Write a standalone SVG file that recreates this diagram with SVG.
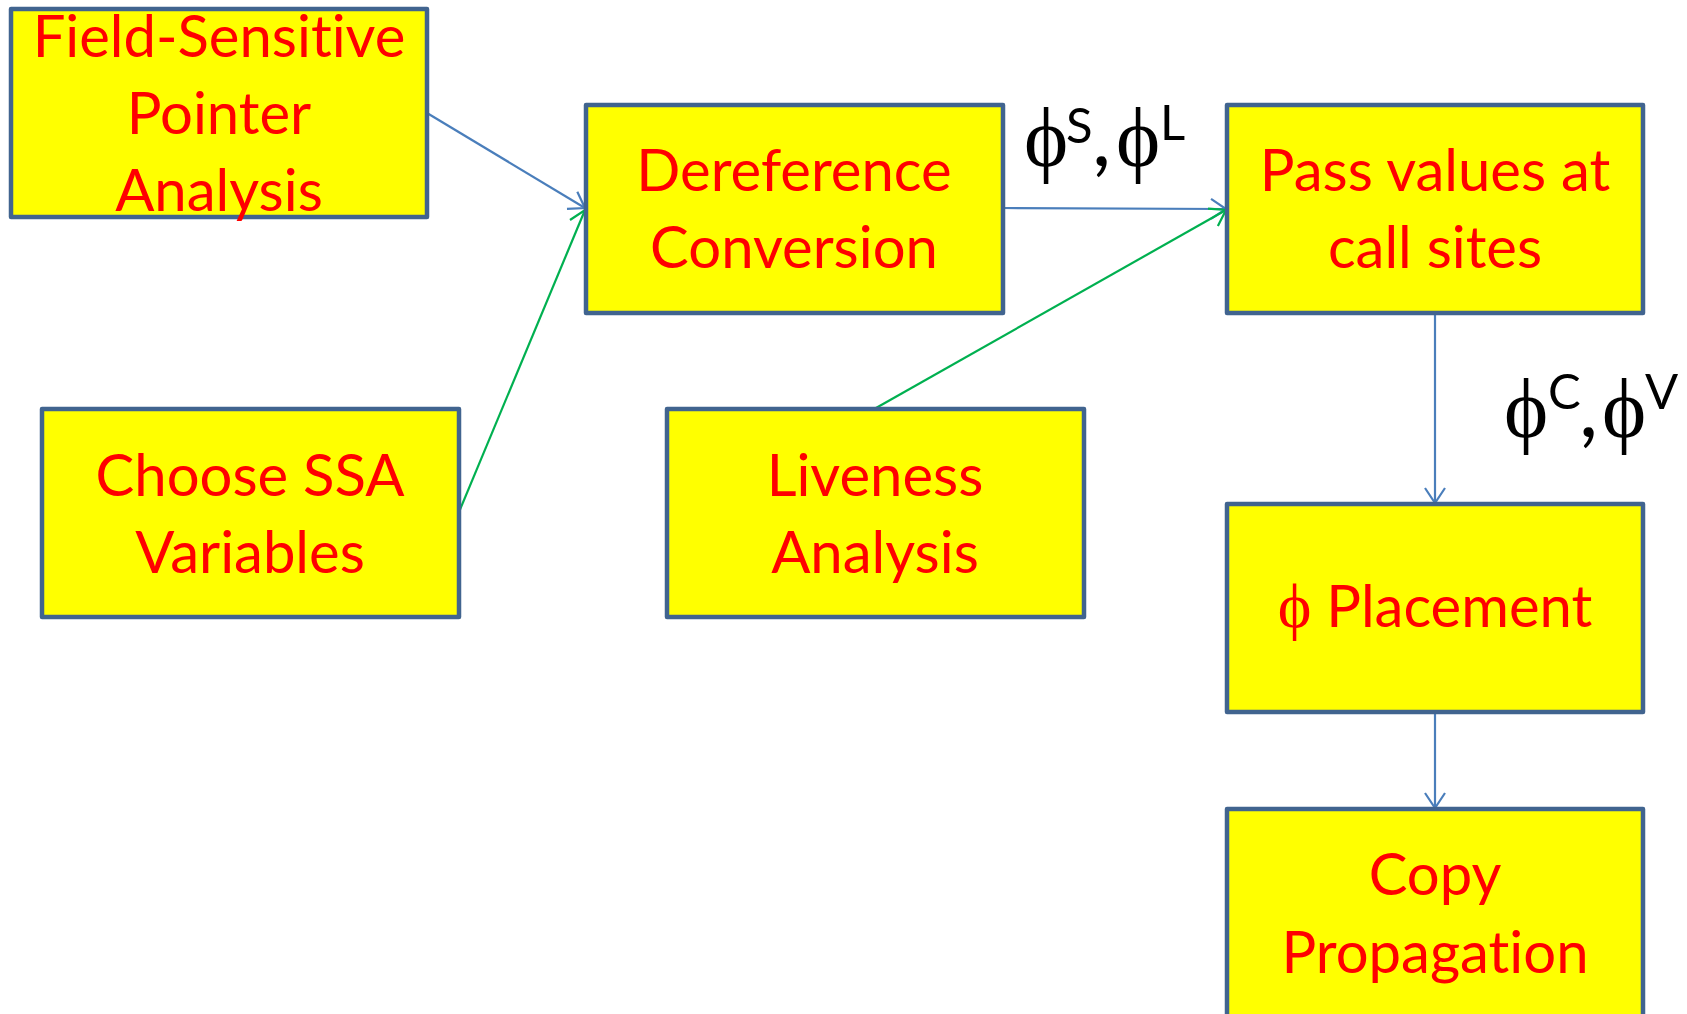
<svg xmlns="http://www.w3.org/2000/svg" width="1687" height="1014" viewBox="0 0 1687 1014">
<style>
.box{fill:#FFFF00;stroke:#41648F;stroke-width:4.5;stroke-linejoin:round}
.t{font-family:Lato,"Open Sans",sans-serif;font-size:58px;fill:#FF0000;text-anchor:middle;font-variant-ligatures:none;font-feature-settings:"liga" 0,"clig" 0}
.lbl{fill:#000}
.phi{font-family:"Liberation Serif","DejaVu Serif",serif;font-size:84px}
.sup{font-family:Lato,"Open Sans",sans-serif;font-size:49px}
.cm{font-family:Lato,"Open Sans",sans-serif;font-size:84px}
.blue{stroke:#4A7EBB;stroke-width:2.2;fill:none}
.green{stroke:#00B050;stroke-width:2.2;fill:none}
</style>
<defs>
<marker id="ab" viewBox="-17 -12 19 24" refX="0" refY="0" markerWidth="19" markerHeight="24" markerUnits="userSpaceOnUse" orient="auto">
<path d="M-15,-10 L0,0 L-15,10" fill="none" stroke="#4A7EBB" stroke-width="2.2"/>
</marker>
<marker id="ag" viewBox="-17 -12 19 24" refX="0" refY="0" markerWidth="19" markerHeight="24" markerUnits="userSpaceOnUse" orient="auto">
<path d="M-15,-10 L0,0 L-15,10" fill="none" stroke="#00B050" stroke-width="2.2"/>
</marker>
</defs>
<rect width="1687" height="1014" fill="#fff"/>
<g id="connectors">
<line class="blue" x1="427" y1="113" x2="585" y2="208" marker-end="url(#ab)"/>
<line class="green" x1="459" y1="512" x2="585" y2="210" marker-end="url(#ag)"/>
<line class="blue" x1="1003" y1="208" x2="1226" y2="209" marker-end="url(#ab)"/>
<line class="green" x1="876" y1="408" x2="1226" y2="210" marker-end="url(#ag)"/>
<line class="blue" x1="1435" y1="313" x2="1435" y2="503" marker-end="url(#ab)"/>
<line class="blue" x1="1435" y1="712" x2="1435" y2="808" marker-end="url(#ab)"/>
</g>
<g id="n1">
<rect class="box" x="11" y="9" width="416" height="208"/>
<text class="t" x="219" y="57">Field-Sensitive</text>
<text class="t" x="219" y="134">Pointer</text>
<text class="t" x="219" y="211">Analysis</text>
</g>
<g id="n2">
<rect class="box" x="586" y="105" width="417" height="208"/>
<text class="t" x="794" y="191">Dereference</text>
<text class="t" x="794" y="268">Conversion</text>
</g>
<g id="n3">
<rect class="box" x="1227" y="105" width="416" height="208"/>
<text class="t" x="1435" y="191">Pass values at</text>
<text class="t" x="1435" y="268">call sites</text>
</g>
<g id="n4">
<rect class="box" x="42" y="409" width="417" height="208"/>
<text class="t" x="250" y="496">Choose SSA</text>
<text class="t" x="250" y="573">Variables</text>
</g>
<g id="n5">
<rect class="box" x="667" y="409" width="417" height="208"/>
<text class="t" x="875" y="496">Liveness</text>
<text class="t" x="875" y="573">Analysis</text>
</g>
<g id="n6">
<rect class="box" x="1227" y="504" width="416" height="208"/>
<text class="t" x="1435" y="627"><tspan font-family="Liberation Serif, serif" font-size="64">ϕ</tspan> Placement</text>
</g>
<g id="n7">
<rect class="box" x="1227" y="809" width="416" height="215"/>
<text class="t" x="1435" y="895">Copy</text>
<text class="t" x="1435" y="973">Propagation</text>
</g>
<g id="label1">
<text class="lbl"><tspan class="phi" x="1024" y="166">ϕ</tspan><tspan class="sup" x="1066" y="143">S</tspan><tspan class="cm" x="1092" y="166">,</tspan><tspan class="phi" x="1116" y="166">ϕ</tspan><tspan class="sup" x="1160" y="140">L</tspan></text>
</g>
<g id="label2">
<text class="lbl"><tspan class="phi" x="1504" y="437">ϕ</tspan><tspan class="sup" x="1548" y="409">C</tspan><tspan class="cm" x="1579" y="437">,</tspan><tspan class="phi" x="1602" y="437">ϕ</tspan><tspan class="sup" x="1645" y="409">V</tspan></text>
</g>
</svg>
